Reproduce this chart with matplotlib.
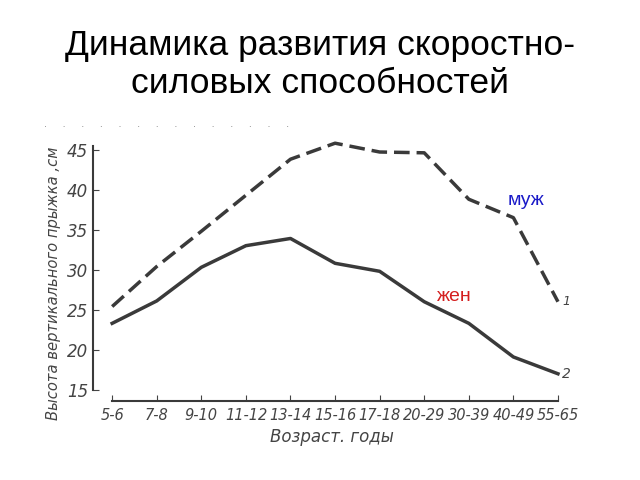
import matplotlib.pyplot as plt

ages = ["5-6", "7-8", "9-10", "11-12", "13-14", "15-16", "17-18",
        "20-29", "30-39", "40-49", "55-65"]
men = [25.4, 30.4, 34.8, 39.3, 43.8, 45.8, 44.7, 44.6, 38.8, 36.5, 26.0]
women = [23.3, 26.1, 30.3, 33.0, 33.9, 30.8, 29.8, 26.0, 23.3, 19.1, 17.0]

fig = plt.figure(figsize=(6.4, 4.8), dpi=100)
fig.text(0.5, 0.866, "Динамика развития скоростно-\nсиловых способностей",
         ha="center", va="center", fontsize=25.5, family="Liberation Sans",
         linespacing=1.2)
fig.text(0.068, 0.735, "·     " * 14, fontsize=7.0, color="#888888", va="center")

ax = fig.add_axes([93 / 640, 1 - 401 / 480, (570 - 93) / 640, (401 - 140) / 480])
x = list(range(len(ages)))
line_col = "#3a3a3a"
ax.plot(x, men, color=line_col, lw=2.5, dashes=(4.5, 2), clip_on=False)
ax.plot(x, women, color=line_col, lw=2.5, clip_on=False)

ax.set_xlim(-0.43, 10.27)
ax.set_ylim(13.6, 46.2)
for s in ["top", "right"]:
    ax.spines[s].set_visible(False)
ax.spines["left"].set_bounds(15, 45.5)
ax.spines["bottom"].set_bounds(0, 10)
for s in ["left", "bottom"]:
    ax.spines[s].set_color(line_col)
    ax.spines[s].set_linewidth(1.5)

ax.set_xticks(x)
ax.set_xticklabels(ages, fontsize=10.5, style="italic", color="#444444")
ax.set_yticks([15, 20, 25, 30, 35, 40, 45])
ax.tick_params(axis="y", direction="in", length=4, labelsize=12, colors="#444444")
ax.tick_params(axis="x", direction="in", length=4, pad=5, colors="#444444")
for lbl in ax.get_yticklabels():
    lbl.set_style("italic")

ax.set_xlabel("Возраст. годы", fontsize=12, style="italic", color="#444444", labelpad=4)
ax.set_ylabel("Высота вертикального прыжка ,см", fontsize=10.6, style="italic",
              color="#444444", labelpad=5)
ax.yaxis.set_label_coords(-0.068, 0.45)

ax.text(10.1, men[-1], "1", fontsize=9, style="italic", color="#444444", va="center")
ax.text(10.1, women[-1], "2", fontsize=10, style="italic", color="#444444", va="center")
ax.text(8.88, 38.6, "муж", fontsize=14, color="#1a1ac8", family="Liberation Sans",
        va="center")
ax.text(7.29, 26.6, "жен", fontsize=14, color="#d42020", family="Liberation Sans",
        va="center")

fig.savefig("out.png", dpi=100)
